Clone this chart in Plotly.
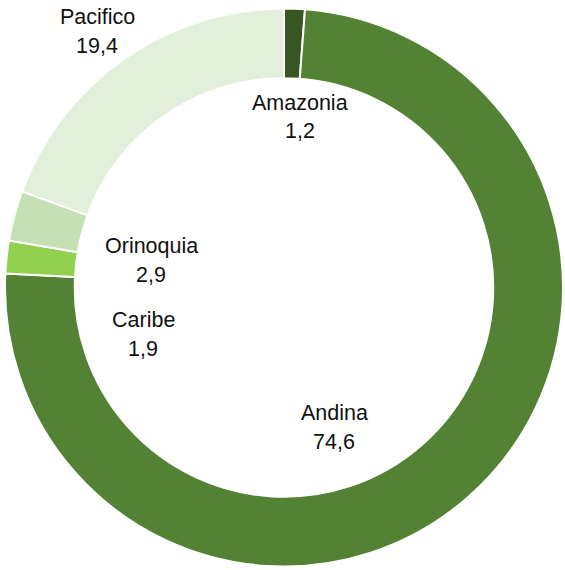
import plotly.graph_objects as go

# Regional shares (%)
regions = ["Amazonia", "Andina", "Caribe", "Orinoquia", "Pacifico"]
shares = [1.2, 74.6, 1.9, 2.9, 19.4]
colors = ["#375623", "#548235", "#92d050", "#c5e0b4", "#e2efda"]

# Label anchor points in pixels (x, y of the name line) on the 565x570 canvas
label_px = [(300, 103), (334, 413), (143, 320), (151, 246), (97, 17)]
line_gap = 28.5

W, H = 565, 570
cx, cy, r = 284, 287.5, 279

fig = go.Figure(
    go.Pie(
        labels=regions,
        values=shares,
        marker=dict(colors=colors, line=dict(color="white", width=2)),
        hole=0.75,
        sort=False,
        direction="clockwise",
        rotation=0,
        textinfo="none",
        hoverinfo="label+value",
        showlegend=False,
        domain=dict(
            x=[(cx - r) / W, (cx + r) / W],
            y=[(H - cy - r) / H, (H - cy + r) / H],
        ),
    )
)

font = dict(family="Liberation Sans, Arial, sans-serif", size=21.5, color="#111111")
annotations = []
for name, val, (px, py) in zip(regions, shares, label_px):
    for text, yy in ((name, py), (f"{val:.1f}".replace(".", ","), py + line_gap)):
        annotations.append(
            dict(
                text=text,
                x=px / W,
                y=1 - yy / H,
                xref="paper",
                yref="paper",
                xanchor="center",
                yanchor="middle",
                showarrow=False,
                font=font,
            )
        )

fig.update_layout(
    width=W,
    height=H,
    margin=dict(l=0, r=0, t=0, b=0),
    paper_bgcolor="white",
    plot_bgcolor="white",
    annotations=annotations,
)

fig.write_html("out.html")
